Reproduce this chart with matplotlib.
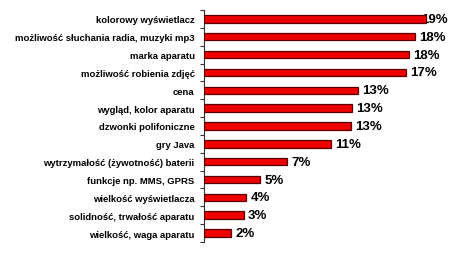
import matplotlib.pyplot as plt

# survey answers, top to bottom
features = [
    "kolorowy wyświetlacz",
    "możliwość słuchania radia, muzyki mp3",
    "marka aparatu",
    "możliwość robienia zdjęć",
    "cena",
    "wygląd, kolor aparatu",
    "dzwonki polifoniczne",
    "gry Java",
    "wytrzymałość (żywotność) baterii",
    "funkcje np. MMS, GPRS",
    "wielkość wyświetlacza",
    "solidność, trwałość aparatu",
    "wielkość, waga aparatu",
]
shares = [19.0, 18.1, 17.6, 17.3, 13.2, 12.7, 12.6, 10.9, 7.1, 4.8, 3.6, 3.4, 2.3]

plt.rcParams['font.family'] = ['Liberation Sans', 'DejaVu Sans']

fig = plt.figure(figsize=(4.49, 2.55), dpi=100)
ax = fig.add_axes([0.455, 0.047, 0.545, 0.91])

ypos = list(range(len(features)))
ax.barh(ypos, shares, height=0.42, color="#ee0000", edgecolor="#5a0000",
        linewidth=0.9, zorder=3)

xmax = 21
for y, v in zip(ypos, shares):
    # longest bar: label tucked under the bar end so it stays in the frame
    off = 3 if v < 19 else -3
    ax.annotate(f"{v:.0f}%", (v, y), xytext=(off, 0), textcoords="offset points",
                va="center", ha="left", fontsize=9.5, fontweight="bold", zorder=2)

ax.set_ylim(len(features) - 0.5, -0.5)
ax.set_xlim(0, xmax)
ax.set_yticks(ypos)
ax.set_yticklabels(features, fontsize=6.8, fontweight="bold")
ax.tick_params(axis="y", which="major", length=0, pad=7)
ax.set_yticks([i - 0.5 for i in range(len(features) + 1)], minor=True)
ax.tick_params(axis="y", which="minor", length=3, width=0.8, color="#333333")
ax.set_xticks([])

for side in ["top", "right", "bottom"]:
    ax.spines[side].set_visible(False)
ax.spines["left"].set_color("#333333")
ax.spines["left"].set_linewidth(0.8)

plt.savefig("out.png", dpi=100)
